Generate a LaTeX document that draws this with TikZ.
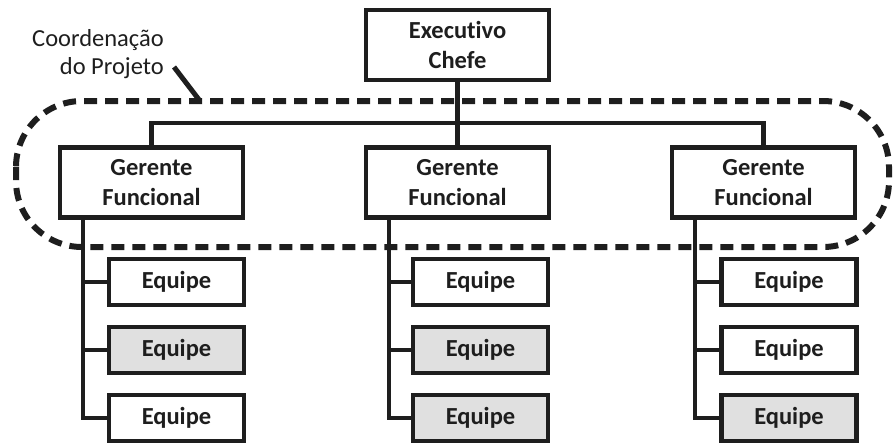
\documentclass[tikz,border=0pt]{standalone}
\usepackage{fontspec}
\setmainfont{Carlito}[Ligatures=NoCommon]
\definecolor{ink}{HTML}{1E1E1E}
\definecolor{shade}{HTML}{E0E0E0}
\begin{document}
\begin{tikzpicture}[x=1pt,y=-1pt,
  box/.style={draw=ink,line width=4.5pt,fill=white,align=center,text=ink,
    font=\fontsize{24.5}{30}\selectfont\bfseries,inner sep=0pt},
  bigbox/.style={box,minimum width=183pt,minimum height=70pt},
  teambox/.style={box,minimum width=135pt,minimum height=46pt},
  greybox/.style={teambox,fill=shade},
  wire/.style={draw=ink,line width=4.5pt},
  coord/.style={draw=ink,line width=6pt,dash pattern=on 13pt off 8pt}]
\useasboundingbox (0,0) rectangle (893,442);
% dashed coordination outline
\draw[coord,rounded corners=66pt] (16,101) rectangle (889,247);
% label
\node[align=right,anchor=east,text=ink,font=\fontsize{24.5}{28}\selectfont,inner sep=0pt] (lbl) at (164,54) {Coordenação\\do Projeto};
\coordinate (pA) at (174,67);
\coordinate (pB) at (200,101);
\draw[draw=ink,line width=5pt] (pA) -- (pB);
% nodes
\node[bigbox] (exec) at (457.5,45) {Executivo\\Chefe};
\node[bigbox] (g1) at (151.5,182.5) {Gerente\\Funcional};
\node[bigbox] (g2) at (457.5,182.5) {Gerente\\Funcional};
\node[bigbox] (g3) at (763.5,182.5) {Gerente\\Funcional};
\node[teambox] (e11) at (176.5,282) {Equipe};
\node[greybox] (e12) at (176.5,350) {Equipe};
\node[teambox] (e13) at (176.5,418) {Equipe};
\node[teambox] (e21) at (480.5,282) {Equipe};
\node[greybox] (e22) at (480.5,350) {Equipe};
\node[greybox] (e23) at (480.5,418) {Equipe};
\node[teambox] (e31) at (789,282) {Equipe};
\node[teambox] (e32) at (789,350) {Equipe};
\node[greybox] (e33) at (789,418) {Equipe};
% connectors
\draw[wire] (exec.south) -- (g2.north);
\draw[wire] (g1.north) -- ++(0,-22.5) -| (g3.north);
\foreach \g/\a/\b/\c in {g1/e11/e12/e13, g2/e21/e22/e23, g3/e31/e32/e33}{
  \draw[wire] ([xshift=25pt]\g.south west) |- (\c.west);
  \draw[wire] ([xshift=25pt]\g.south west |- \a.west) -- (\a.west);
  \draw[wire] ([xshift=25pt]\g.south west |- \b.west) -- (\b.west);
}
\end{tikzpicture}
\end{document}
